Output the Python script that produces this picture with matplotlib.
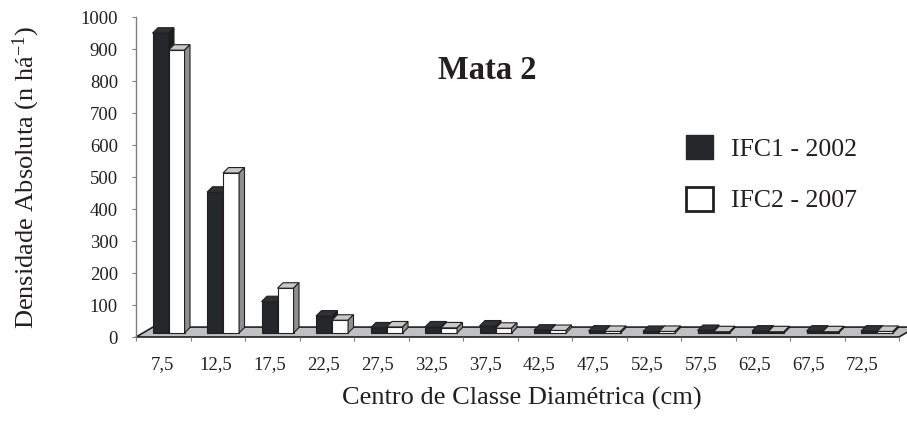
import numpy as np
import matplotlib
matplotlib.use('Agg')
import matplotlib.pyplot as plt
from matplotlib.patches import Polygon, Patch

# chart data
classes = ['7,5', '12,5', '17,5', '22,5', '27,5', '32,5', '37,5',
           '42,5', '47,5', '52,5', '57,5', '62,5', '67,5', '72,5']
ifc1_2002 = [937, 440, 98, 53, 16, 19, 22, 9, 6, 5, 8, 6, 6, 6]
ifc2_2007 = [884, 500, 140, 40, 19, 16, 15, 8, 5, 5, 4, 4, 4, 5]
series_names = ['IFC1 - 2002', 'IFC2 - 2007']
y_ticks = list(range(0, 1001, 100))

plt.rcParams['font.family'] = ['Liberation Serif', 'DejaVu Serif']
plt.rcParams['mathtext.fontset'] = 'custom'
plt.rcParams['mathtext.rm'] = 'Liberation Serif'
plt.rcParams['mathtext.default'] = 'rm'

ink = '#231f20'
dark = '#24282b'

fig = plt.figure(figsize=(9.07, 4.28), dpi=100)
ax = fig.add_axes([136 / 907, 91 / 428, 763 / 907, 320 / 428])

n = len(classes)
ax.set_xlim(0, n)
ax.set_ylim(0, 1000)

# pseudo 3d offsets, in data units
floor_dx, floor_dy = 0.312, 31.0
bar_dx, bar_dy = 0.10, 17.0
base = 12.5
bar_w = 0.294
left_off = 0.303

# floor
floor = Polygon([(0, 0), (n, 0), (n + floor_dx, floor_dy), (floor_dx, floor_dy)],
                closed=True, facecolor='#bfc0c2', edgecolor=ink, lw=1.2,
                zorder=1, clip_on=False)
ax.add_patch(floor)


def bar3d(x0, h, front, top, side, z):
    # front face through the axes' bar, top and side faces as polygons
    ax.bar(x0, h, width=bar_w, bottom=base, align='edge', color=front,
           edgecolor=ink, linewidth=0.8, zorder=z)
    y1 = base + h
    x1 = x0 + bar_w
    ax.add_patch(Polygon([(x0, y1), (x1, y1), (x1 + bar_dx, y1 + bar_dy),
                          (x0 + bar_dx, y1 + bar_dy)], closed=True,
                         facecolor=top, edgecolor=ink, lw=0.8, zorder=z + 0.1,
                         clip_on=False))
    ax.add_patch(Polygon([(x1, base), (x1 + bar_dx, base + bar_dy),
                          (x1 + bar_dx, y1 + bar_dy), (x1, y1)], closed=True,
                         facecolor=side, edgecolor=ink, lw=0.8, zorder=z + 0.1,
                         clip_on=False))


for i in range(n):
    bar3d(i + left_off, ifc1_2002[i], dark, '#2e3235', '#1b1e20', 2)
    bar3d(i + left_off + bar_w, ifc2_2007[i], 'white', '#c9c9c9', '#8f8f8f', 3)

# axes styling
for s in ['top', 'right', 'bottom']:
    ax.spines[s].set_visible(False)
ax.spines['left'].set_color('#808080')
ax.spines['left'].set_linewidth(1.0)

ax.set_yticks(y_ticks)
ax.tick_params(axis='y', length=3, color='#808080', pad=10,
               labelsize=13.5, labelcolor=ink)

centers = np.arange(n) + 0.5 - (1 + 0.65 * np.arange(n)) / 54.5
ax.set_xticks(np.arange(n + 1))
ax.set_xticklabels([])
ax.set_xticks(centers, classes, minor=True)
ax.tick_params(axis='x', which='major', length=3, color='#808080')
ax.tick_params(axis='x', which='minor', length=0, pad=13.5,
               labelsize=13.5, labelcolor=ink)

ax.set_xlabel('Centro de Classe Diamétrica (cm)', fontsize=19, color=ink)
ax.xaxis.set_label_coords(0.506, -0.155)
ax.set_ylabel('Densidade Absoluta (n há$^{-1}$)', fontsize=19, color=ink)
ax.yaxis.set_label_coords(-0.123, 0.5)

ax.text(0.46, 0.834, 'Mata 2', fontsize=23.5, fontweight='bold', color=ink,
        ha='center', va='center', transform=ax.transAxes)

handles = [Patch(facecolor=dark, edgecolor=dark),
           Patch(facecolor='white', edgecolor=ink, linewidth=2)]
ax.legend(handles, series_names, loc='upper left',
          bbox_to_anchor=(673 / 907, 1 - 122 / 428), bbox_transform=fig.transFigure,
          frameon=False, fontsize=18.5, handlelength=1.05, handleheight=1.05,
          handletextpad=0.72, labelspacing=1.02, borderpad=0, labelcolor=ink)

plt.savefig('out.png', dpi=100)
